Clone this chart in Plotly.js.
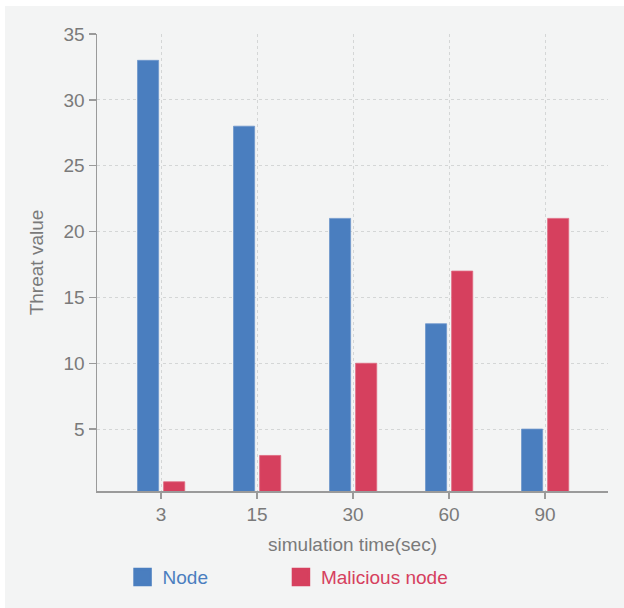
<!DOCTYPE html>
<html>
<head>
<meta charset="utf-8">
<script src="https://cdn.plot.ly/plotly-3.0.1.min.js"></script>
<style>
  html, body { margin: 0; padding: 0; background: #ffffff; }
  #chart { position: absolute; left: 5px; top: 6px; width: 619px; height: 602px; }
</style>
</head>
<body>
<div id="chart"></div>
<script>
const categories = ["3", "15", "30", "60", "90"];
const nodeValues = [33, 28, 21, 13, 5];
const maliciousValues = [1, 3, 10, 17, 21];
const yTickValues = [5, 10, 15, 20, 25, 30, 35];
const seriesNames = ["Node", "Malicious node"];

const blue = "#4a7ebf";
const red = "#d6405e";
const textGray = "#7a7a7a";
const font = "'Liberation Sans', Arial, Helvetica, sans-serif";

const traces = [
  {
    type: "bar", x: categories, y: nodeValues, name: seriesNames[0],
    marker: { color: blue, line: { color: "#6f97cc", width: 0.8 } },
    width: 0.22, offset: -0.245, showlegend: false, hoverinfo: "x+y"
  },
  {
    type: "bar", x: categories, y: maliciousValues, name: seriesNames[1],
    marker: { color: red, line: { color: "#e06a82", width: 0.8 } },
    width: 0.22, offset: 0.027, showlegend: false, hoverinfo: "x+y"
  },
  {
    type: "scatter", mode: "markers", x: [null], y: [null], legend: "legend",
    name: '<span style="color:' + blue + '">' + seriesNames[0] + '</span>',
    marker: { symbol: "square", size: 16, color: blue, line: { color: blue, width: 2.5 } },
    hoverinfo: "skip"
  },
  {
    type: "scatter", mode: "markers", x: [null], y: [null], legend: "legend2",
    name: '<span style="color:' + red + '">' + seriesNames[1] + '</span>',
    marker: { symbol: "square", size: 16, color: red, line: { color: red, width: 2.5 } },
    hoverinfo: "skip"
  }
];

const legendCommon = {
  orientation: "h", xanchor: "left", y: -0.1885, yanchor: "middle",
  bgcolor: "rgba(0,0,0,0)", font: { size: 19 }, itemsizing: "trace"
};

const layout = {
  width: 619, height: 602,
  paper_bgcolor: "#f3f4f4", plot_bgcolor: "#f3f4f4",
  margin: { l: 92, r: 16, t: 28, b: 112 },
  font: { family: font, size: 19, color: textGray },
  barmode: "group",
  xaxis: {
    type: "category",
    range: [-0.667, 4.656],
    showline: true, linecolor: "#9a9a9a", linewidth: 1.5,
    ticks: "outside", ticklen: 6, tickcolor: "#9a9a9a", tickwidth: 1.5,
    showgrid: true, gridcolor: "#d4d6d6", griddash: "dot", gridwidth: 1,
    tickfont: { size: 19, color: textGray },
    title: { text: "simulation time(sec)", font: { size: 19, color: textGray }, standoff: 13 },
    fixedrange: true, automargin: false
  },
  yaxis: {
    range: [0.3, 35],
    tickvals: yTickValues,
    showline: true, linecolor: "#9a9a9a", linewidth: 1.5,
    ticks: "outside", ticklen: 7, tickcolor: "#9a9a9a", tickwidth: 1.5,
    showgrid: true, gridcolor: "#d4d6d6", griddash: "dot", gridwidth: 1,
    zeroline: false,
    tickfont: { size: 19, color: textGray },
    title: { text: "Threat value", font: { size: 19, color: textGray }, standoff: 15 },
    fixedrange: true, automargin: false
  },
  showlegend: true,
  legend: Object.assign({ x: 0.05 }, legendCommon),
  legend2: Object.assign({ x: 0.360 }, legendCommon)
};

Plotly.newPlot("chart", traces, layout, { displayModeBar: false, staticPlot: true });
</script>
</body>
</html>
